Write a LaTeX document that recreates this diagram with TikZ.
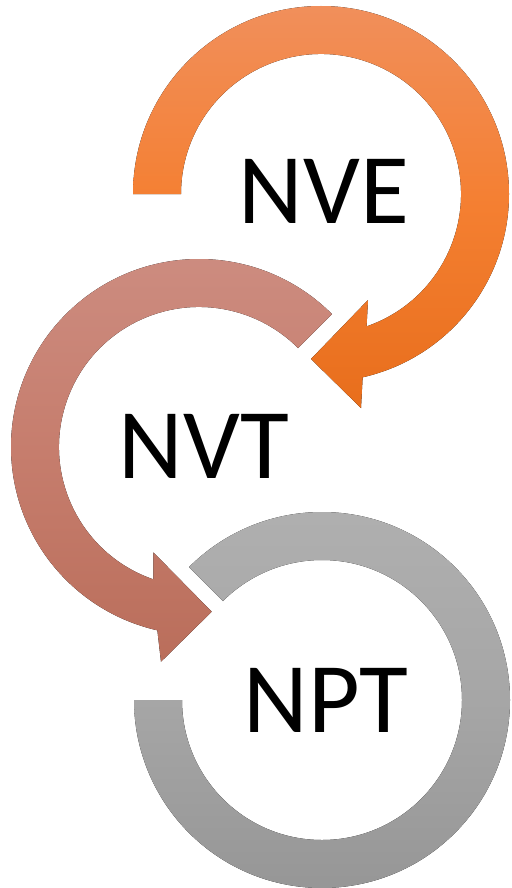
\documentclass[tikz,border=0pt]{standalone}
\usepackage{fontspec}
\setmainfont{Carlito}
\usetikzlibrary{calc}

\definecolor{orTop}{HTML}{F18F5B}
\definecolor{orMid}{HTML}{F47F31}
\definecolor{orBot}{HTML}{E86E1C}
\definecolor{rsTop}{HTML}{CD8D81}
\definecolor{rsMid}{HTML}{C67D6D}
\definecolor{rsBot}{HTML}{BA6E5B}
\definecolor{gyTop}{HTML}{B0B0B0}
\definecolor{gyMid}{HTML}{A6A6A6}
\definecolor{gyBot}{HTML}{959595}

\tikzset{
  phase/.style={font=\fontsize{100}{120}\selectfont, text=black, anchor=base, inner sep=0pt},
  ringE/.style={top color=orTop, bottom color=orBot, middle color=orMid, draw=none},
  ringT/.style={top color=rsTop, bottom color=rsBot, middle color=rsMid, draw=none},
  ringP/.style={top color=gyTop, bottom color=gyBot, middle color=gyMid, draw=none},
}

\begin{document}
\begin{tikzpicture}[x=1pt, y=-1pt]
  \useasboundingbox (0,0) rectangle (511,888);

  % ring centres
  \coordinate (cE) at (321,194);
  \coordinate (cT) at (199,447);
  \coordinate (cP) at (322,700);

  % NVE: clockwise arc from the left, ending in an arrow head
  \fill[ringE] ($(cE)+(180:188)$) arc[start angle=180, end angle=437.2, radius=188]
    -- ($(cE)+(40,214)$) -- ($(cE)+(-10,165)$) -- ($(cE)+(47,106)$)
    -- ($(cE)+(71:140)$) arc[start angle=431, end angle=180, radius=140] -- cycle;

  % NVT: counter-clockwise arc from the upper right, ending in an arrow head
  \fill[ringT] ($(cT)+(315:188)$) arc[start angle=315, end angle=102.8, radius=188]
    -- ($(cT)+(-38,214.7)$) -- ($(cT)+(12.7,164.7)$) -- ($(cT)+(-45.7,105.3)$)
    -- ($(cT)+(109:140)$) arc[start angle=109, end angle=315, radius=140] -- cycle;

  % NPT: open ring without a head
  \fill[ringP] ($(cP)+(225:188)$) arc[start angle=225, end angle=540, radius=188]
    -- ($(cP)+(180:140)$) arc[start angle=540, end angle=225, radius=140] -- cycle;

  \node[phase] (nve) at (324,223) {NVE};
  \node[phase] (nvt) at (204,478.5) {NVT};
  \node[phase] (npt) at (326,732) {NPT};
\end{tikzpicture}
\end{document}
